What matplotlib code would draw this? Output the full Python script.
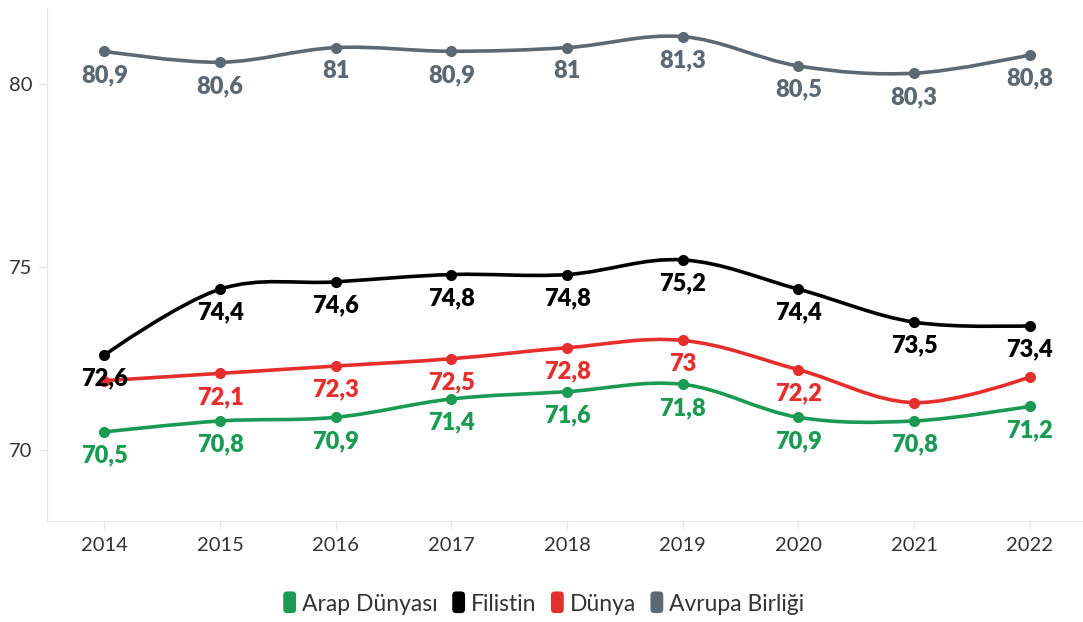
import numpy as np
import matplotlib
matplotlib.use("Agg")
import matplotlib.pyplot as plt
from matplotlib.path import Path
from matplotlib.patches import PathPatch, FancyBboxPatch
from matplotlib.legend_handler import HandlerBase

plt.rcParams['font.family'] = ['Lato', 'DejaVu Sans']

years = [2014, 2015, 2016, 2017, 2018, 2019, 2020, 2021, 2022]
arap = [70.5, 70.8, 70.9, 71.4, 71.6, 71.8, 70.9, 70.8, 71.2]
filistin = [72.6, 74.4, 74.6, 74.8, 74.8, 75.2, 74.4, 73.5, 73.4]
dunya = [71.9, 72.1, 72.3, 72.5, 72.8, 73.0, 72.2, 71.3, 72.0]
avrupa = [80.9, 80.6, 81.0, 80.9, 81.0, 81.3, 80.5, 80.3, 80.8]

series = [
    ("Arap Dünyası", arap, "#1a9a53", []),
    ("Filistin", filistin, "#000000", []),
    ("Dünya", dunya, "#e62e2d", [0, 7, 8]),
    ("Avrupa Birliği", avrupa, "#5c6872", []),
]


def smooth_path(xs, ys, k=0.35):
    # bezier through the points, control points from neighbours
    xs = np.asarray(xs, float)
    ys = np.asarray(ys, float)
    verts = [(xs[0], ys[0])]
    codes = [Path.MOVETO]
    n = len(xs)
    for i in range(n - 1):
        p0 = np.array([xs[max(i - 1, 0)], ys[max(i - 1, 0)]])
        p1 = np.array([xs[i], ys[i]])
        p2 = np.array([xs[i + 1], ys[i + 1]])
        p3 = np.array([xs[min(i + 2, n - 1)], ys[min(i + 2, n - 1)]])
        c1 = p1 + (p2 - p0) * k / 2 if i > 0 else p1
        c2 = p2 - (p3 - p1) * k / 2 if i < n - 2 else p2
        verts += [tuple(c1), tuple(c2), tuple(p2)]
        codes += [Path.CURVE4] * 3
    return Path(verts, codes)


class RoundBox(HandlerBase):
    def create_artists(self, legend, orig, xd, yd, w, h, fs, trans):
        bw, bh = 0.8 * h, 1.35 * h
        p = FancyBboxPatch((xd + w - bw, yd + (h - bh) / 2 + 0.05 * h), bw, bh,
                           boxstyle="round,pad=0,rounding_size=%f" % (bw * 0.3),
                           facecolor=orig.get_facecolor(), edgecolor='none', transform=trans)
        return [p]


fig = plt.figure(figsize=(10.83, 6.22), dpi=100)
ax = fig.add_axes([0.043, 0.162, 0.957, 0.825])

for name, vals, color, hidden in series:
    ax.add_patch(PathPatch(smooth_path(years, vals), fill=False, edgecolor=color,
                           lw=2.6, capstyle='round', joinstyle='round', zorder=2))
    ax.plot(years, vals, 'o', color=color, ms=7, zorder=3)
    for i, (x, v) in enumerate(zip(years, vals)):
        if i in hidden:
            continue
        ax.annotate(f"{v:g}".replace(".", ","), (x, v), xytext=(0, -17),
                    textcoords='offset points', ha='center', va='center',
                    color=color, fontsize=17, fontweight='heavy', zorder=4)

ax.set_xlim(2013.5, 2022.46)
ax.set_ylim(68.06, 82.08)
ax.set_xticks(years)
ax.set_yticks([70, 75, 80])
ax.tick_params(axis='both', colors='#e6e6e6', labelcolor='#333333', labelsize=14.5,
               length=6, width=1)
ax.tick_params(axis='x', pad=5)
ax.tick_params(axis='y', pad=4)
for s in ['top', 'right']:
    ax.spines[s].set_visible(False)
for s in ['left', 'bottom']:
    ax.spines[s].set_color('#e6e6e6')

handles = [FancyBboxPatch((0, 0), 1, 1, facecolor=c) for _, _, c, _ in series]
fig.legend(handles, [n for n, _, _, _ in series], loc='center', ncol=4,
           bbox_to_anchor=(0.5, 0.028), frameon=False, fontsize=16.5,
           handler_map={FancyBboxPatch: RoundBox()},
           handletextpad=0.25, columnspacing=0.45, handlelength=0.75, labelcolor='#333333')

fig.savefig("out.png", dpi=100)
